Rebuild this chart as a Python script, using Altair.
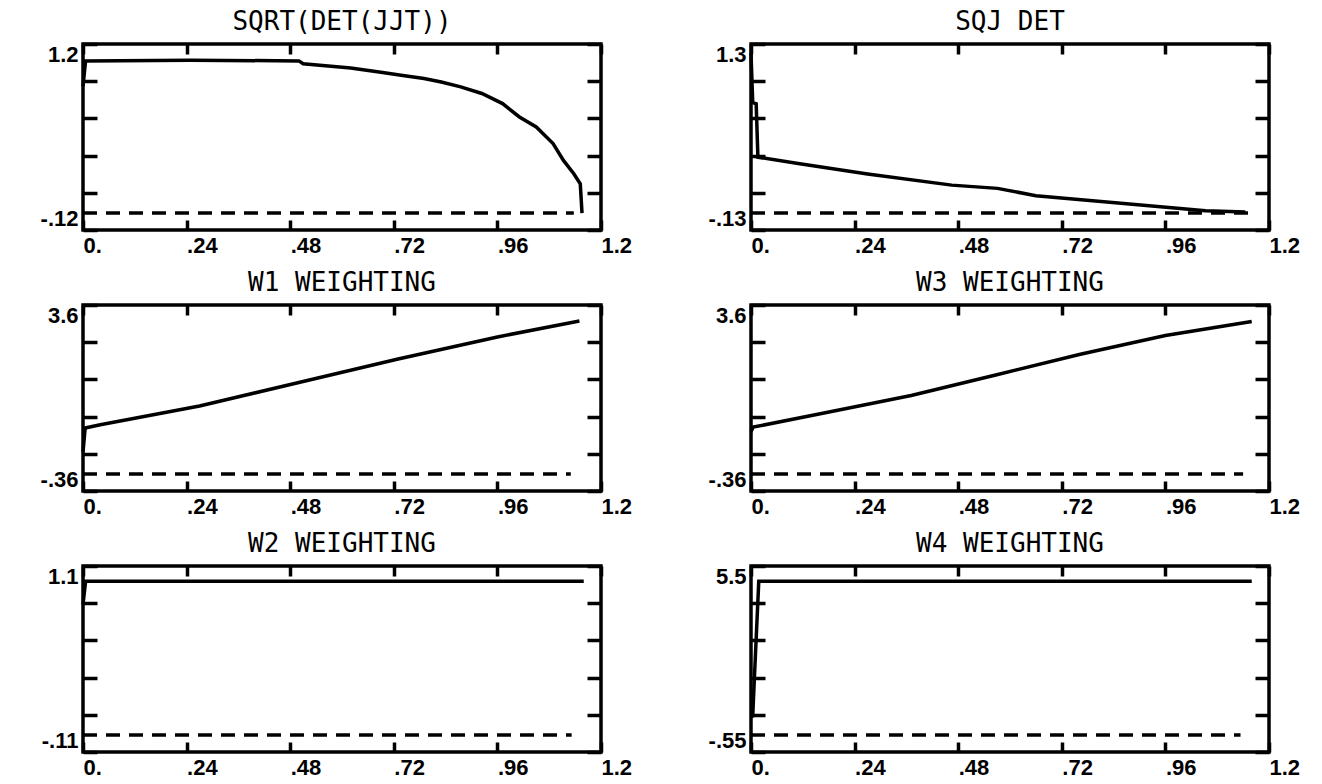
import altair as alt
import pandas as pd

# ---------------- data ----------------
titles = ["SQRT(DET(JJT))", "SQJ DET", "W1 WEIGHTING", "W3 WEIGHTING",
          "W2 WEIGHTING", "W4 WEIGHTING"]
y_min = [-0.12, -0.13, -0.36, -0.36, -0.11, -0.55]
y_max = [1.2, 1.3, 3.6, 3.6, 1.1, 5.5]
y_min_labels = ["-.12", "-.13", "-.36", "-.36", "-.11", "-.55"]
y_max_labels = ["1.2", "1.3", "3.6", "3.6", "1.1", "5.5"]
x_ticks = [0.0, 0.24, 0.48, 0.72, 0.96, 1.2]
x_tick_labels = ["0.", ".24", ".48", ".72", ".96", "1.2"]
zero_end = [1.137, 1.16, 1.13, 1.14, 1.132, 1.134]

x_sqrt = [0.0, 0.006, 0.25, 0.5, 0.51, 0.62, 0.69, 0.745, 0.79, 0.83, 0.875,
          0.924, 0.972, 1.011, 1.05, 1.089, 1.113, 1.137, 1.152, 1.156]
y_sqrt = [0.9, 1.08, 1.085, 1.08, 1.06, 1.03, 1.0, 0.975, 0.955, 0.93, 0.896,
          0.849, 0.777, 0.682, 0.611, 0.493, 0.374, 0.279, 0.208, 0.0]

x_sqj = [0.0, 0.004, 0.012, 0.016, 0.113, 0.27, 0.465, 0.571, 0.66, 0.857,
         1.053, 1.145]
y_sqj = [1.23, 0.85, 0.84, 0.43, 0.38, 0.30, 0.215, 0.19, 0.134, 0.076,
         0.018, 0.008]

x_w1 = [0.0, 0.005, 0.04, 0.27, 0.5, 0.73, 0.96, 1.15]
y_w1 = [0.47, 0.98, 1.05, 1.45, 1.95, 2.45, 2.92, 3.26]

x_w3 = [0.0, 0.005, 0.175, 0.371, 0.567, 0.763, 0.96, 1.16]
y_w3 = [0.9, 1.0, 1.31, 1.675, 2.11, 2.55, 2.95, 3.25]

x_w2 = [0.0, 0.006, 1.16]
y_w2 = [0.85, 1.0, 1.0]

x_w4 = [0.0, 0.004, 0.008, 0.018, 1.16]
y_w4 = [0.6, 0.62, 1.9, 5.0, 5.0]

series_x = [x_sqrt, x_sqj, x_w1, x_w3, x_w2, x_w4]
series_y = [y_sqrt, y_sqj, y_w1, y_w3, y_w2, y_w4]

# ---------------- styling ----------------
LABEL_FONT = "Liberation Sans"
TITLE_FONT = "DejaVu Sans Mono"
STROKE = 3.5


def x_label_expr():
    expr = "''"
    for v, lab in reversed(list(zip(x_ticks, x_tick_labels))):
        expr = f"abs(datum.value - {v}) < 1e-9 ? '{lab}' : ({expr})"
    return expr


def panel(i):
    df = pd.DataFrame({"x": series_x[i], "y": series_y[i]})
    zdf = pd.DataFrame({"x": [0.0, zero_end[i]], "y": [0.0, 0.0]})
    lo, hi = y_min[i], y_max[i]
    yt = [lo] + [lo + k * (hi - lo) / 5 for k in range(1, 5)] + [hi]
    xscale = alt.Scale(domain=[0, 1.2], nice=False, zero=False)
    yscale = alt.Scale(domain=[lo, hi], nice=False, zero=False)
    y_expr = (f"abs(datum.value - ({lo})) < 1e-9 ? '{y_min_labels[i]}' : "
              f"(abs(datum.value - ({hi})) < 1e-9 ? '{y_max_labels[i]}' : '')")
    common = dict(domain=False, grid=False, title=None, tickColor="black",
                  tickWidth=STROKE, labelColor="black", labelFont=LABEL_FONT,
                  labelFontSize=22, labelFontWeight="bold", minExtent=0)

    line = alt.Chart(df).mark_line(color="black", strokeWidth=STROKE).encode(
        x=alt.X("x:Q", scale=xscale, axis=alt.Axis(
            orient="bottom", values=x_ticks, labelExpr=x_label_expr(),
            labelAlign="left", labelFlush=False, labelPadding=5,
            tickSize=10, offset=-10, **common)),
        y=alt.Y("y:Q", scale=yscale, axis=alt.Axis(
            orient="left", values=yt, labelExpr=y_expr, labelFlush=True,
            labelPadding=5, tickSize=14, offset=-14, **common)),
    )
    zero = alt.Chart(zdf).mark_line(color="black", strokeWidth=STROKE,
                                    strokeDash=[14, 9]).encode(
        x=alt.X("x:Q", scale=xscale, axis=alt.Axis(
            orient="top", values=x_ticks, labels=False, tickSize=10,
            offset=-10, **common)),
        y=alt.Y("y:Q", scale=yscale, axis=alt.Axis(
            orient="right", values=yt, labels=False, tickSize=14,
            offset=-14, **common)),
    )
    return alt.layer(line, zero).resolve_axis(
        x="independent", y="independent"
    ).properties(
        width=518, height=186,
        title=alt.TitleParams(text=titles[i], font=TITLE_FONT, fontSize=26,
                              fontWeight="normal", color="black",
                              anchor="middle", frame="group", offset=12,
                              dy=26, baseline="alphabetic"),
    )


chart = alt.concat(
    *[panel(i) for i in range(6)],
    columns=2,
    spacing={"row": 75, "column": 150},
    bounds="flush",
).properties(
    padding={"left": 30, "top": -1, "right": 5, "bottom": 5},
    background="white",
).configure_view(stroke="black", strokeWidth=STROKE)

chart.save("out.html", embed_options={"renderer": "svg", "actions": False})
